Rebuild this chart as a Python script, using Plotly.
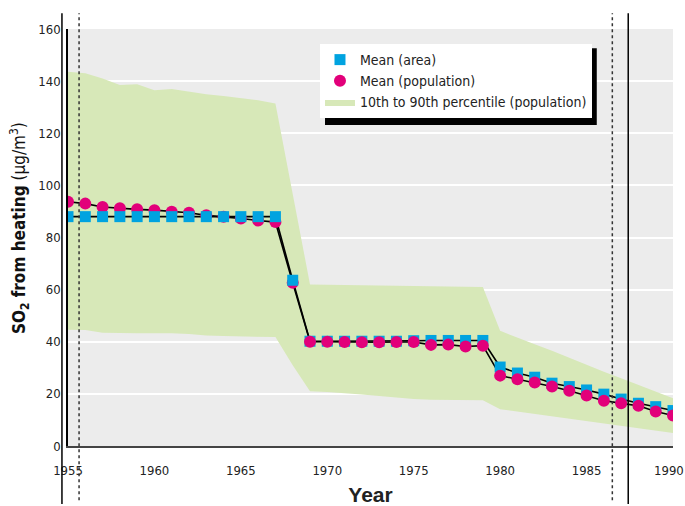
import plotly.graph_objects as go

years = list(range(1955, 1991))

mean_area = [88, 88, 88, 88, 88, 88, 88, 88, 88, 88, 88, 88, 88,
             63.6,
             40.2, 40.2, 40.2, 40.2, 40.2, 40.2, 40.4, 40.5, 40.5, 40.5, 40.5,
             30.3, 28.0, 26.4, 24.1, 22.8, 21.5, 19.9, 18.0, 16.4, 15.1, 13.6]

mean_pop = [93.7, 93.0, 91.7, 91.2, 90.8, 90.5, 89.9, 89.5, 88.5, 88.0, 87.3, 86.5, 85.9,
            62.6,
            40.0, 40.0, 39.9, 39.8, 39.8, 39.9, 39.9, 38.8, 38.9, 38.2, 38.5,
            27.0, 25.6, 24.4, 22.8, 21.2, 19.4, 17.4, 16.4, 15.4, 13.2, 11.7]

p90 = [143.6, 143.0, 141.0, 138.5, 138.8, 136.5, 137.0, 136.0, 135.0, 134.3, 133.5, 132.7, 131.4,
       97.0,
       62.0, 61.9, 61.8, 61.7, 61.6, 61.5, 61.4, 61.3, 61.2, 61.1, 61.0,
       44.2, 41.5, 39.0, 36.5, 33.8, 31.0, 28.5, 26.0, 23.5, 21.0, 18.3]

p10 = [44.6, 44.5, 43.5, 43.3, 43.3, 43.3, 43.3, 43.0, 42.4, 42.2, 42.0, 41.9, 41.8,
       31.0,
       21.0, 20.7, 20.3, 19.8, 19.2, 18.5, 18.0, 17.7, 17.7, 17.7, 17.6,
       14.1, 13.2, 12.3, 11.4, 10.5, 9.6, 8.7, 7.8, 6.8, 5.9, 5.0]

xtick_vals = [1955, 1960, 1965, 1970, 1975, 1980, 1985, 1990]
ref_solid = [1954.65, 1987.41]
ref_dotted = [1955.64, 1986.49]

X0, X1 = 1955, 1990
BLUE = "#00a3e0"
MAG = "#e2007a"
GREEN = "#d7e8b8"
FONT = "DejaVu Sans Condensed, Roboto, sans-serif"
TICKSIZE = 13

split = 14  # squares drawn on top before this index, circles on top after

fig = go.Figure()
fig.add_trace(go.Scatter(x=years, y=p10, mode="lines", line=dict(width=0, color=GREEN),
                         showlegend=False, hoverinfo="skip"))
fig.add_trace(go.Scatter(x=years, y=p90, mode="lines", line=dict(width=0, color=GREEN),
                         fill="tonexty", fillcolor=GREEN,
                         name="10th to 90th percentile (population)", legendrank=3))
fig.add_trace(go.Scatter(x=years, y=mean_area, mode="lines", line=dict(color="black", width=1.6),
                         showlegend=False))
fig.add_trace(go.Scatter(x=years, y=mean_pop, mode="lines", line=dict(color="black", width=1.6),
                         showlegend=False))
sq = dict(symbol="square", size=11, color=BLUE)
ci = dict(symbol="circle", size=12, color=MAG)
fig.add_trace(go.Scatter(x=years[:split], y=mean_pop[:split], mode="markers", marker=ci,
                         legendgroup="pop", showlegend=False))
fig.add_trace(go.Scatter(x=years[:split], y=mean_area[:split], mode="markers", marker=sq,
                         name="Mean (area)", legendgroup="area", legendrank=1))
fig.add_trace(go.Scatter(x=years[split:], y=mean_area[split:], mode="markers", marker=sq,
                         legendgroup="area", showlegend=False))
fig.add_trace(go.Scatter(x=years[split:], y=mean_pop[split:], mode="markers", marker=ci,
                         name="Mean (population)", legendgroup="pop", legendrank=2))

def px(year):
    return (year - X0) / (X1 - X0)

shapes = []
for yr in ref_solid:
    shapes.append(dict(type="line", xref="paper", yref="paper", x0=px(yr), x1=px(yr),
                       y0=-0.139, y1=1.038, line=dict(color="black", width=1.5)))
for yr in ref_dotted:
    shapes.append(dict(type="line", xref="paper", yref="paper", x0=px(yr), x1=px(yr),
                       y0=-0.13, y1=1.038, line=dict(color="#333", width=1.5, dash="dot")))
# legend shadow
shapes.append(dict(type="rect", xref="paper", yref="paper", x0=0.4248, x1=0.874,
                   y0=0.770, y1=0.954, fillcolor="black", line=dict(width=0), layer="above"))
fig.update_layout(shapes=shapes)

fig.add_annotation(text="<b>SO<sub>2</sub> from heating</b> (µg/m<sup>3</sup>)",
                   xref="paper", yref="paper", x=-0.079, y=0.523, textangle=-90,
                   showarrow=False, xanchor="center", yanchor="middle",
                   font=dict(size=17, family=FONT, color="#111"))

# last x tick label, nudged inward so it is not clipped at the page edge
fig.add_annotation(text=str(xtick_vals[-1]), xref="x", yref="paper", x=xtick_vals[-1], y=0,
                   yshift=-24, xshift=-4, showarrow=False, xanchor="center", yanchor="middle",
                   font=dict(size=TICKSIZE, family=FONT, color="#222"))

fig.update_layout(
    width=685, height=506,
    margin=dict(l=68, r=12, t=29, b=60),
    paper_bgcolor="white", plot_bgcolor="#ececec",
    font=dict(family=FONT, size=TICKSIZE, color="#222"),
    showlegend=True,
    legend=dict(x=0.4165, y=0.964, xanchor="left", yanchor="top", bgcolor="white",
                borderwidth=0, font=dict(size=14, family=FONT, color="#222"),
                traceorder="normal", itemclick=False, tracegroupgap=0),
    xaxis=dict(range=[X0, X1], tickvals=xtick_vals[:-1], automargin=False,
               showgrid=False, zeroline=False, showline=True, linecolor="#444", linewidth=2,
               ticks="outside", ticklen=11, tickcolor="rgba(0,0,0,0)",
               tickfont=dict(size=TICKSIZE), ticklabeloverflow="allow",
               title=dict(text="<b>Year</b>", font=dict(size=21, family="Liberation Sans, Arial"),
                          standoff=12)),
    yaxis=dict(range=[0, 160], dtick=20, showgrid=True, gridcolor="white", gridwidth=1.5,
               zeroline=False, showline=True, linecolor="black", linewidth=1.5, automargin=False,
               ticks="outside", ticklen=3, tickcolor="rgba(0,0,0,0)",
               tickfont=dict(size=TICKSIZE), ticklabeloverflow="allow"),
)

fig.write_html("out.html", config={"displayModeBar": False},
               post_script="document.body.style.margin='0';")
